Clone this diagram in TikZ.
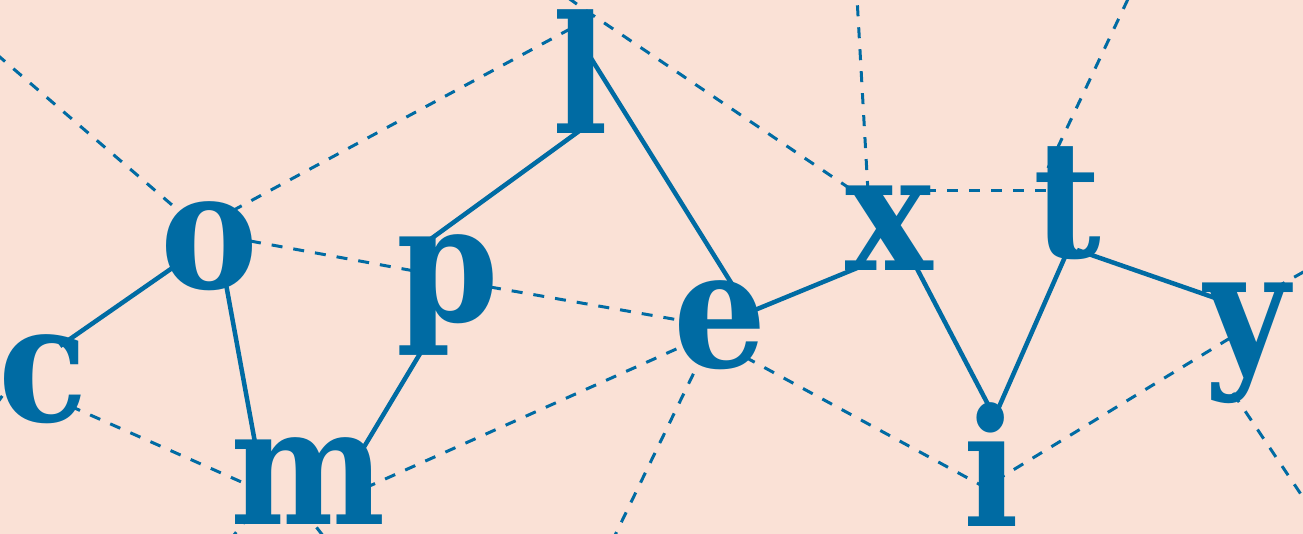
\documentclass[tikz,border=0pt]{standalone}
\usepackage{fontspec}
\newfontfamily\letterfont{DejaVu Serif}[FakeStretch=0.9]
\definecolor{peach}{RGB}{250,225,214}
\definecolor{inkblue}{RGB}{0,107,163}
\tikzset{
  letter/.style={anchor=base,inner sep=0pt,text=inkblue,
    font=\letterfont\bfseries\fontsize{163}{163}\selectfont},
  spelledge/.style={draw=inkblue,line width=4.5pt},
  meshedge/.style={draw=inkblue,line width=3pt,dash pattern=on 11pt off 11pt},
}
\begin{document}
\begin{tikzpicture}[x=1pt,y=-1pt]
\useasboundingbox (0,0) rectangle (1303,534);
\fill[peach] (0,0) rectangle (1303,534);
\clip (0,0) rectangle (1303,534);
% letters
\node[letter] (c) at (43,421) {c};
\node[letter] (o) at (209,289) {o};
\node[letter] (m) at (308,524) {m};
\node[letter] (p) at (448,322) {p};
\node[letter] (l) at (580,134) {l};
\node[letter] (e) at (720,367) {e};
\node[letter] (x) at (889,271) {x};
\node[letter] (t) at (1067,258) {t};
\node[letter] (i) at (991,526) {i};
\node[letter] (y) at (1247,367) {y};
% free ends outside the frame
\coordinate (nw) at (-20,40);
\coordinate (w) at (-22,430);
\coordinate (s1) at (182,600);
\coordinate (s2) at (373,600);
\coordinate (n1) at (550,-15);
\coordinate (n2) at (856,-20);
\coordinate (n3) at (1137,-20);
\coordinate (s3) at (603,560);
\coordinate (s4) at (999,560);
\coordinate (e1) at (1330,257);
\coordinate (se) at (1345,560);
% dashed mesh
\draw[meshedge] (nw) -- ([shift={(-23,-72)}]o.base);
\draw[meshedge] ([shift={(23,-78)}]o.base) -- ([shift={(-10,-105)}]l.base);
\draw[meshedge] ([shift={(41,-48)}]o.base) -- ([shift={(-28,-50)}]p.base);
\draw[meshedge] ([shift={(42,-35)}]p.base) -- ([shift={(-30,-45)}]e.base);
\draw[meshedge] ([shift={(-28,-43)}]c.base) -- (w);
\draw[meshedge] ([shift={(27,-15)}]c.base) -- ([shift={(-53,-36)}]m.base);
\draw[meshedge] ([shift={(57,-36)}]m.base) -- ([shift={(-28,-25)}]e.base);
\draw[meshedge] ([shift={(-58,-9)}]m.base) -- (s1);
\draw[meshedge] ([shift={(-5,-14)}]m.base) -- (s2);
\draw[meshedge] (n1) -- ([shift={(8,-122)}]l.base) -- ([shift={(-37,-81)}]x.base);
\draw[meshedge] ([shift={(-21,-79)}]x.base) -- (n2);
\draw[meshedge] ([shift={(36,-80)}]x.base) -- ([shift={(-9,-67)}]t.base);
\draw[meshedge] ([shift={(-19,-90)}]t.base) -- (n3);
\draw[meshedge] ([shift={(-17,-13)}]e.base) -- (s3);
\draw[meshedge] ([shift={(25,-10)}]e.base) -- ([shift={(-3,-37)}]i.base);
\draw[meshedge] ([shift={(4,-45)}]i.base) -- ([shift={(-7,-35)}]y.base);
\draw[meshedge] ([shift={(-5,-11)}]i.base) -- (s4);
\draw[meshedge] ([shift={(28,-79)}]y.base) -- (e1);
\draw[meshedge] ([shift={(-14,26)}]y.base) -- (se);
% solid path c-o-m-p-l-e-x-i-t-y
\draw[spelledge] ([shift={(17,-75)}]c.base) -- ([shift={(-31,-25)}]o.base);
\draw[spelledge] ([shift={(17,-5)}]o.base) -- ([shift={(-52,-76)}]m.base);
\draw[spelledge] ([shift={(53,-72)}]m.base) -- ([shift={(-24,25)}]p.base);
\draw[spelledge] ([shift={(-20,-81)}]p.base) -- ([shift={(2,-5)}]l.base);
\draw[spelledge] ([shift={(9,-79)}]l.base) -- ([shift={(15,-78)}]e.base);
\draw[spelledge] ([shift={(30,-55)}]e.base) -- ([shift={(-27,-5)}]x.base);
\draw[spelledge] ([shift={(25,-8)}]x.base) -- ([shift={(2,-112)}]i.base);
\draw[spelledge] ([shift={(4,-110)}]i.base) -- ([shift={(1,-8)}]t.base);
\draw[spelledge] ([shift={(10,-8)}]t.base) -- ([shift={(-26,-67)}]y.base);
\end{tikzpicture}
\end{document}
